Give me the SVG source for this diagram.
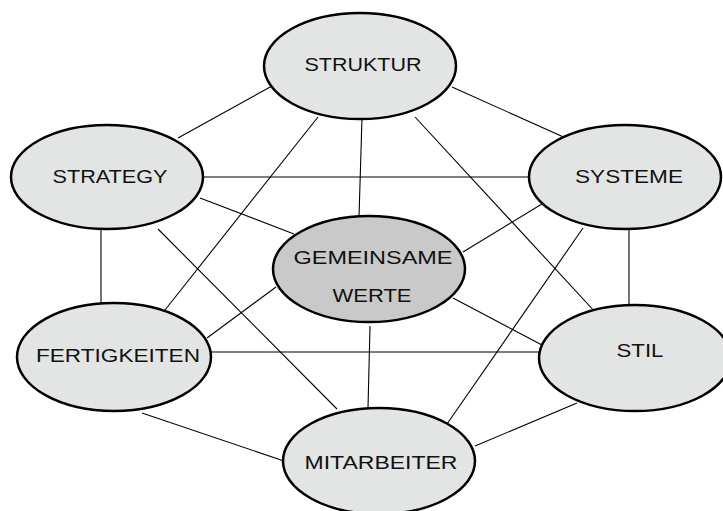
<svg xmlns="http://www.w3.org/2000/svg" width="723" height="511" viewBox="0 0 723 511">
<style>
.e{fill:#e3e4e4;stroke:#000;stroke-width:2.5}
.c{fill:#c9c9ca}
.t{font-family:"Liberation Sans",Arial,sans-serif;font-size:19px;fill:#111;text-anchor:middle}
#edges line{stroke:#000;stroke-width:1.1}
</style>
<rect width="723" height="511" fill="#fff"/>
<g id="edges">
<line x1="178" y1="138" x2="272" y2="86"/>
<line x1="452" y1="87" x2="588" y2="148"/>
<line x1="362" y1="118" x2="359" y2="217"/>
<line x1="318" y1="117" x2="165" y2="310"/>
<line x1="415" y1="117" x2="597" y2="314"/>
<line x1="203" y1="177" x2="528" y2="177"/>
<line x1="200" y1="198" x2="294" y2="234"/>
<line x1="101" y1="230" x2="101" y2="303"/>
<line x1="158" y1="229" x2="337" y2="409"/>
<line x1="560" y1="193" x2="463" y2="252"/>
<line x1="583" y1="228" x2="447" y2="424"/>
<line x1="629" y1="230" x2="629" y2="305"/>
<line x1="276" y1="287" x2="207" y2="338"/>
<line x1="453" y1="298" x2="542" y2="345"/>
<line x1="370" y1="326" x2="368" y2="408"/>
<line x1="211" y1="352" x2="540" y2="352"/>
<line x1="142" y1="413" x2="284" y2="461"/>
<line x1="577" y1="403" x2="475" y2="446"/>
</g>
<g id="struktur"><ellipse class="e" cx="360" cy="66" rx="96" ry="53"/><text class="t" x="363" y="71" textLength="117" lengthAdjust="spacingAndGlyphs">STRUKTUR</text></g>
<g id="strategy"><ellipse class="e" cx="107" cy="177" rx="96" ry="52"/><text class="t" x="110" y="183" textLength="115" lengthAdjust="spacingAndGlyphs">STRATEGY</text></g>
<g id="systeme"><ellipse class="e" cx="625" cy="177" rx="96" ry="52"/><text class="t" x="629" y="183" textLength="108" lengthAdjust="spacingAndGlyphs">SYSTEME</text></g>
<g id="gemeinsame"><ellipse class="e c" cx="369" cy="269" rx="96" ry="53"/><text class="t" x="373" y="264" textLength="159" lengthAdjust="spacingAndGlyphs">GEMEINSAME</text><text class="t" x="372" y="302" textLength="79" lengthAdjust="spacingAndGlyphs">WERTE</text></g>
<g id="fertigkeiten"><ellipse class="e" cx="114" cy="357" rx="97" ry="54"/><text class="t" x="118" y="362" textLength="164" lengthAdjust="spacingAndGlyphs">FERTIGKEITEN</text></g>
<g id="stil"><ellipse class="e" cx="635" cy="358" rx="96" ry="53"/><text class="t" x="640" y="357" textLength="47" lengthAdjust="spacingAndGlyphs">STIL</text></g>
<g id="mitarbeiter"><ellipse class="e" cx="379" cy="461" rx="96" ry="53"/><text class="t" x="381" y="469" textLength="153" lengthAdjust="spacingAndGlyphs">MITARBEITER</text></g>
</svg>
